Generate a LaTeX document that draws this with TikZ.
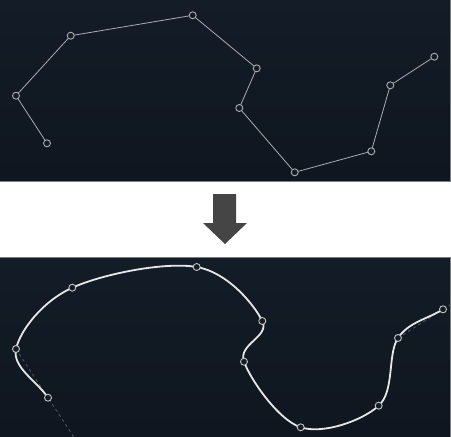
\documentclass[tikz,border=0pt]{standalone}
\usetikzlibrary{calc}
\definecolor{panelTop}{HTML}{131C27}
\definecolor{panelBot}{HTML}{0F161F}
\definecolor{edgegray}{HTML}{7A7F86}
\definecolor{polyline}{HTML}{A9ADB2}
\definecolor{curveline}{HTML}{E6E7E8}
\definecolor{arrowgray}{HTML}{454545}
\definecolor{dashgray}{HTML}{4F5560}
\tikzset{
  pt/.style={circle, draw=#1, fill=panelTop, line width=0.9pt, inner sep=0pt, minimum size=7pt},
  pt/.default={polyline},
  polyseg/.style={draw=polyline, line width=0.8pt},
  splineseg/.style={draw=curveline, line width=1.8pt},
  guide/.style={draw=dashgray, line width=0.8pt, dash pattern=on 3pt off 3pt},
  panel/.style={top color=panelTop, bottom color=panelBot, draw=none},
  paneledge/.style={draw=edgegray, line width=1pt}
}
\begin{document}
\begin{tikzpicture}[x=1pt,y=-1pt]
\useasboundingbox (0,0) rectangle (451,437);
\fill[white] (0,0) rectangle (451,437);
% panels
\shade[panel] (0,0) rectangle (450,181);
\draw[paneledge] (0,181) -- (450,181) -- (450,0);
\shade[panel] (0,257) rectangle (450,437);
\draw[paneledge] (0,257) -- (450,257) -- (450,437);
% arrow
\fill[arrowgray] (213,194) -- (236,194) -- (236,223) -- (247,223) -- (225,244) -- (203,223) -- (213,223) -- cycle;
% top polyline
\coordinate (p1) at (47,143.3);
\coordinate (p2) at (16,95.7);
\coordinate (p3) at (70.7,35.7);
\coordinate (p4) at (192.7,15.3);
\coordinate (p5) at (256.7,68.3);
\coordinate (p6) at (239.3,108);
\coordinate (p7) at (294.7,172.3);
\coordinate (p8) at (371.3,151.3);
\coordinate (p9) at (390.3,85.3);
\coordinate (p10) at (434.3,56.7);
\draw[polyseg] (p1) -- (p2) -- (p3) -- (p4) -- (p5) -- (p6) -- (p7) -- (p8) -- (p9) -- (p10);
\foreach \i in {1,...,10} \node[pt] (P\i) at (p\i) {};
% bottom spline
\coordinate (q1) at (48,397.7);
\coordinate (q2) at (16,349);
\coordinate (q3) at (72.3,287.7);
\coordinate (q4) at (196.7,267);
\coordinate (q5) at (262.3,321);
\coordinate (q6) at (244,361.7);
\coordinate (q7) at (300.7,427.3);
\coordinate (q8) at (378.7,405.7);
\coordinate (q9) at (398,338);
\coordinate (q10) at (443,309.3);
\coordinate (q0) at ($2*(q1)-1*(q2)$);
\coordinate (q11) at ($2*(q10)-1*(q9)$);
\begin{scope}
\clip (0,257) rectangle (450,437);
\draw[guide] (q2) -- (q0);
\draw[guide] (q9) -- (q11);
\end{scope}
\draw[splineseg]
 (q1)
 \foreach \a/\b/\c/\d in {0/1/2/3,1/2/3/4,2/3/4/5,3/4/5/6,4/5/6/7,5/6/7/8,6/7/8/9,7/8/9/10,8/9/10/11}{
   .. controls ($(q\b)+0.16667*(q\c)-0.16667*(q\a)$) and ($(q\c)-0.16667*(q\d)+0.16667*(q\b)$) .. (q\c)
 };
\foreach \i in {1,...,10} \node[pt=curveline!85!black] (Q\i) at (q\i) {};
\end{tikzpicture}
\end{document}
